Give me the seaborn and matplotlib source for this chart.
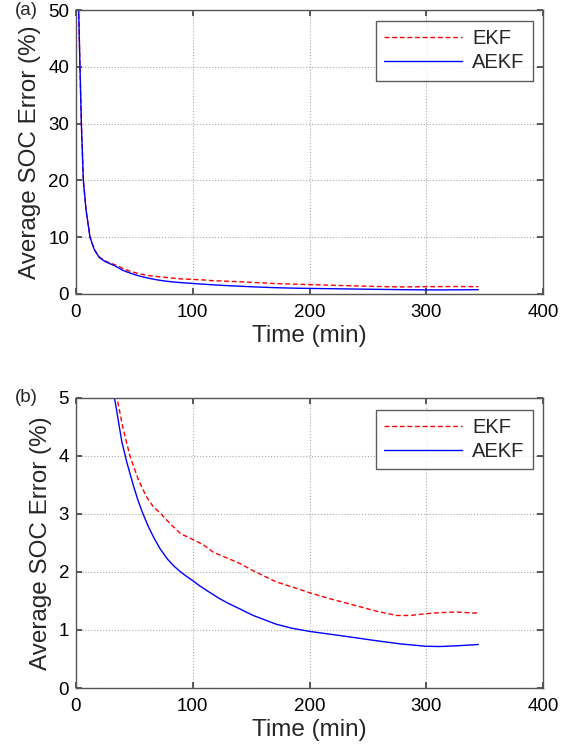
import numpy as np
import pandas as pd
import matplotlib
matplotlib.use("Agg")
import matplotlib.pyplot as plt
import seaborn as sns

# --- data ---
ekf_t = [1, 2.3, 3.4, 4.6, 6.3, 8.6, 12, 15.7, 20, 25, 30, 35.8, 40, 46.2, 53.2, 60.2, 66, 72.8,
         81.2, 89.6, 100, 109, 117.6, 129.4, 140, 151.8, 171.4, 185.4, 200.3, 219, 241.5, 258,
         275, 286, 299.4, 312, 325.5, 344.5]
ekf_v = [62, 50, 40, 30, 20, 14.8, 10, 7.8, 6.5, 5.8, 5.4, 4.93, 4.5, 4.0, 3.6, 3.3, 3.13, 3.0,
         2.82, 2.66, 2.56, 2.47, 2.34, 2.24, 2.15, 2.02, 1.83, 1.74, 1.64, 1.53, 1.41, 1.32,
         1.25, 1.25, 1.28, 1.30, 1.31, 1.29]
aekf_t = [1, 2.3, 3.4, 4.6, 6.3, 8.6, 12, 15.7, 20, 25, 30, 33.6, 39.2, 43.4, 49, 53, 57.4, 62,
          67.2, 72, 78.4, 84, 89.6, 95, 100, 106, 112, 123, 129.4, 151.8, 171.4, 185, 200.3,
          227.5, 255.5, 278, 299.4, 311.5, 328, 344.5]
aekf_v = [62, 50, 40, 30, 20, 14.8, 10, 7.8, 6.4, 5.7, 5.25, 4.93, 4.25, 3.9, 3.5, 3.24, 3.0, 2.78,
          2.57, 2.40, 2.22, 2.10, 2.0, 1.92, 1.85, 1.76, 1.68, 1.54, 1.47, 1.25, 1.10, 1.03, 0.975,
          0.90, 0.82, 0.76, 0.72, 0.715, 0.73, 0.75]
series_names = ["EKF", "AEKF"]

df = pd.concat([
    pd.DataFrame({"Time": ekf_t, "Err": ekf_v, "Method": "EKF"}),
    pd.DataFrame({"Time": aekf_t, "Err": aekf_v, "Method": "AEKF"}),
])

sns.set_theme(style="white")
plt.rcParams["font.family"] = ["Liberation Sans", "DejaVu Sans"]

fig = plt.figure(figsize=(5.81, 7.48), dpi=100)
ax1 = fig.add_axes([0.1308, 0.607, 0.804, 0.3796])
ax2 = fig.add_axes([0.1308, 0.0802, 0.804, 0.3878])

palette = {"EKF": "#ff0000", "AEKF": "#0000ff"}
dashes = {"EKF": (3.5, 2), "AEKF": ""}

for ax, ylim, yticks, lab in [(ax1, (0, 50), [0, 10, 20, 30, 40, 50], "(a)"),
                              (ax2, (0, 5), [0, 1, 2, 3, 4, 5], "(b)")]:
    sns.lineplot(data=df, x="Time", y="Err", hue="Method", style="Method",
                 palette=palette, dashes=dashes, hue_order=series_names,
                 style_order=series_names, linewidth=1.0, ax=ax, sort=False,
                 estimator=None)
    ax.set_xlim(0, 400)
    ax.set_ylim(*ylim)
    ax.set_xticks([0, 100, 200, 300, 400])
    ax.set_yticks(yticks)
    ax.grid(True, linestyle=":", color="#aaaaaa", linewidth=0.8)
    ax.tick_params(direction="in", length=4, labelsize=13.5, top=True, right=True,
                   bottom=True, left=True, colors="#444444", labelcolor="black", pad=5)
    ax.tick_params(axis="x", pad=7)
    for s in ax.spines.values():
        s.set_color("#555555")
        s.set_linewidth(1.0)
    ax.set_xlabel("Time (min)", fontsize=17.5, labelpad=3)
    ax.set_ylabel("Average SOC Error (%)", fontsize=17.5, labelpad=5)
    leg = ax.legend(loc="upper right", fontsize=14.5, frameon=True, fancybox=False,
                    handlelength=3.9, handletextpad=0.5, borderpad=0.4, labelspacing=0.25,
                    bbox_to_anchor=(0.978, 0.96), borderaxespad=0)
    leg.get_frame().set_edgecolor("#333333")
    leg.get_frame().set_linewidth(1.0)
    for line in leg.get_lines():
        line.set_linewidth(1.0)
    fig.text(0.026, ax.get_position().y1, lab, fontsize=13.5, va="center", ha="left")

fig.savefig("out.png", dpi=100)
